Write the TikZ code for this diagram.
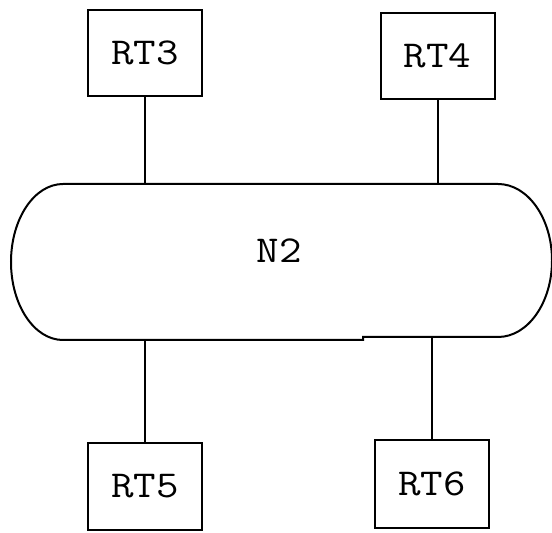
\documentclass[tikz,border=0pt]{standalone}
\usepackage{fontspec}
\newfontfamily\rtfont{Latin Modern Mono}[FakeStretch=1.15]
\usetikzlibrary{positioning,calc}

\begin{document}
\begin{tikzpicture}[x=1pt,y=1pt,
    router/.style={draw,line width=2pt,minimum width=114pt,minimum height=86pt,
      inner sep=0pt,font=\rtfont\fontsize{38}{38}\selectfont},
    link/.style={line width=2pt}]
    \useasboundingbox (0,0) rectangle (552,533);

    % network N2
    \draw[link] (63,349) -- (498,349)
      arc[start angle=90,end angle=-90,x radius=54,y radius=76.5]
      -- (363,196) -- (363,193) -- (63,193)
      arc[start angle=270,end angle=90,x radius=52,y radius=78] -- cycle;
    \node[font=\rtfont\fontsize{38}{38}\selectfont] (n2) at (279,282) {N2};
    \coordinate (n2top) at (0,349);
    \coordinate (n2bot) at (0,193);
    \coordinate (n2botr) at (0,196);

    % routers
    \node[router] (rt3) at (145,480) {RT3};
    \node[router] (rt4) at (437.5,477) {RT4};
    \node[router,minimum height=87pt] (rt5) at (145,46.5) {RT5};
    \node[router,minimum height=88pt] (rt6) at (432,49) {RT6};

    \draw[link] (rt3.south) -- (rt3.south |- n2top);
    \draw[link] (rt4.south) -- (rt4.south |- n2top);
    \draw[link] (rt5.north) -- (rt5.north |- n2bot);
    \draw[link] (rt6.north) -- (rt6.north |- n2botr);
\end{tikzpicture}
\end{document}
